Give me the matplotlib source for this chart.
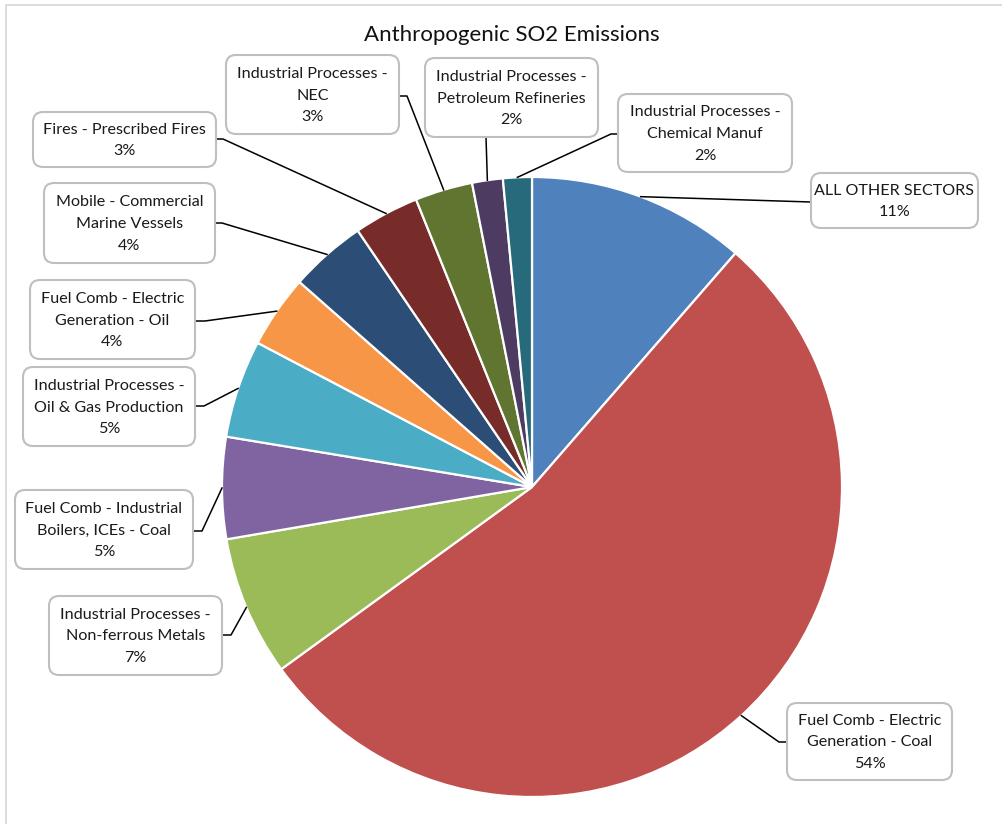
"""
Anthropogenic SO2 Emissions - pie chart with callout boxes (Excel style)
"""
import numpy as np
import matplotlib
matplotlib.use("Agg")
import matplotlib.pyplot as plt
from matplotlib.patches import FancyBboxPatch

plt.rcParams['font.family'] = ['Lato', 'DejaVu Sans']

# ---- data (clockwise from 12 o'clock) ----
sectors = [
    "ALL OTHER SECTORS",
    "Fuel Comb - Electric\nGeneration - Coal",
    "Industrial Processes -\nNon-ferrous Metals",
    "Fuel Comb - Industrial\nBoilers, ICEs - Coal",
    "Industrial Processes -\nOil & Gas Production",
    "Fuel Comb - Electric\nGeneration - Oil",
    "Mobile - Commercial\nMarine Vessels",
    "Fires - Prescribed Fires",
    "Industrial Processes -\nNEC",
    "Industrial Processes -\nPetroleum Refineries",
    "Industrial Processes -\nChemical Manuf",
]
shares = [11.4, 53.6, 7.3, 5.3, 5.1, 3.8, 4.0, 3.4, 3.0, 1.6, 1.5]
colors = ['#4F81BD', '#C0504D', '#9BBB59', '#8064A2', '#4BACC6', '#F79646',
          '#2C4D75', '#772C2A', '#5F7530', '#4D3B62', '#276A7C']

# ---- layout (pixel coords, y from top) ----
W, H = 1002, 824
center = (532, 487)
radius = 310
# box (x0, y0, x1, y1), attach point on box, optional elbow point
boxes = [
    ((811, 173, 978, 228), (811, 202), None),
    ((787, 703, 952, 780), (787, 742), (779, 742)),
    ((49, 596, 222, 675), (222, 635), (231, 635)),
    ((15, 490, 193, 569), (193, 531), (202, 531)),
    ((23, 367, 195, 446), (195, 406), (204, 406)),
    ((30, 280, 195, 359), (195, 321), (205, 321)),
    ((44, 183, 215, 263), (215, 223), (222, 223)),
    ((33, 112, 216, 167), (216, 139), (223, 139)),
    ((226, 55, 399, 134), (399, 96), (407, 96)),
    ((425, 58, 598, 137), (486, 137), None),
    ((618, 94, 792, 172), (618, 134), (611, 134)),
]

fig = plt.figure(figsize=(W / 100, H / 100), dpi=100)
ax = fig.add_axes([0, 0, 1, 1])

# y axis inverted -> startangle -90 / counterclock True draws clockwise from top
wedges, _ = ax.pie(shares, colors=colors, center=center, radius=radius,
                   startangle=-90, counterclock=True,
                   wedgeprops=dict(edgecolor='white', linewidth=1.6))
ax.set_xlim(0, W)
ax.set_ylim(H, 0)
ax.set_aspect('equal')
ax.axis('off')

# chart border (only top/left visible in the crop)
ax.plot([6, 6, W], [H, 5, 5], color='#D9D9D9', lw=1.3, solid_capstyle='butt')

ax.text(512, 35, "Anthropogenic SO2 Emissions", ha='center', va='center',
        fontsize=16, color='#111111')

total = sum(shares)
for w, name, val, (bx, att, elb) in zip(wedges, sectors, shares, boxes):
    mid = np.deg2rad((w.theta1 + w.theta2) / 2)
    ex = center[0] + radius * np.cos(mid)
    ey = center[1] + radius * np.sin(mid)
    xs, ys = [ex], [ey]
    if elb is not None:
        xs.append(elb[0]); ys.append(elb[1])
    xs.append(att[0]); ys.append(att[1])
    ax.plot(xs, ys, color='black', lw=1.1, zorder=3)

    x0, y0, x1, y1 = bx
    patch = FancyBboxPatch((x0, y0), x1 - x0, y1 - y0,
                           boxstyle="round,pad=0,rounding_size=10",
                           facecolor='white', edgecolor='#BFBFBF', lw=1.5, zorder=4)
    ax.add_patch(patch)
    ax.text((x0 + x1) / 2, (y0 + y1) / 2 + 1, f"{name}\n{val / total * 100:.0f}%",
            ha='center', va='center', fontsize=11.6, linespacing=1.72,
            color='#1a1a1a', zorder=5)

fig.savefig("out.png", dpi=100)
